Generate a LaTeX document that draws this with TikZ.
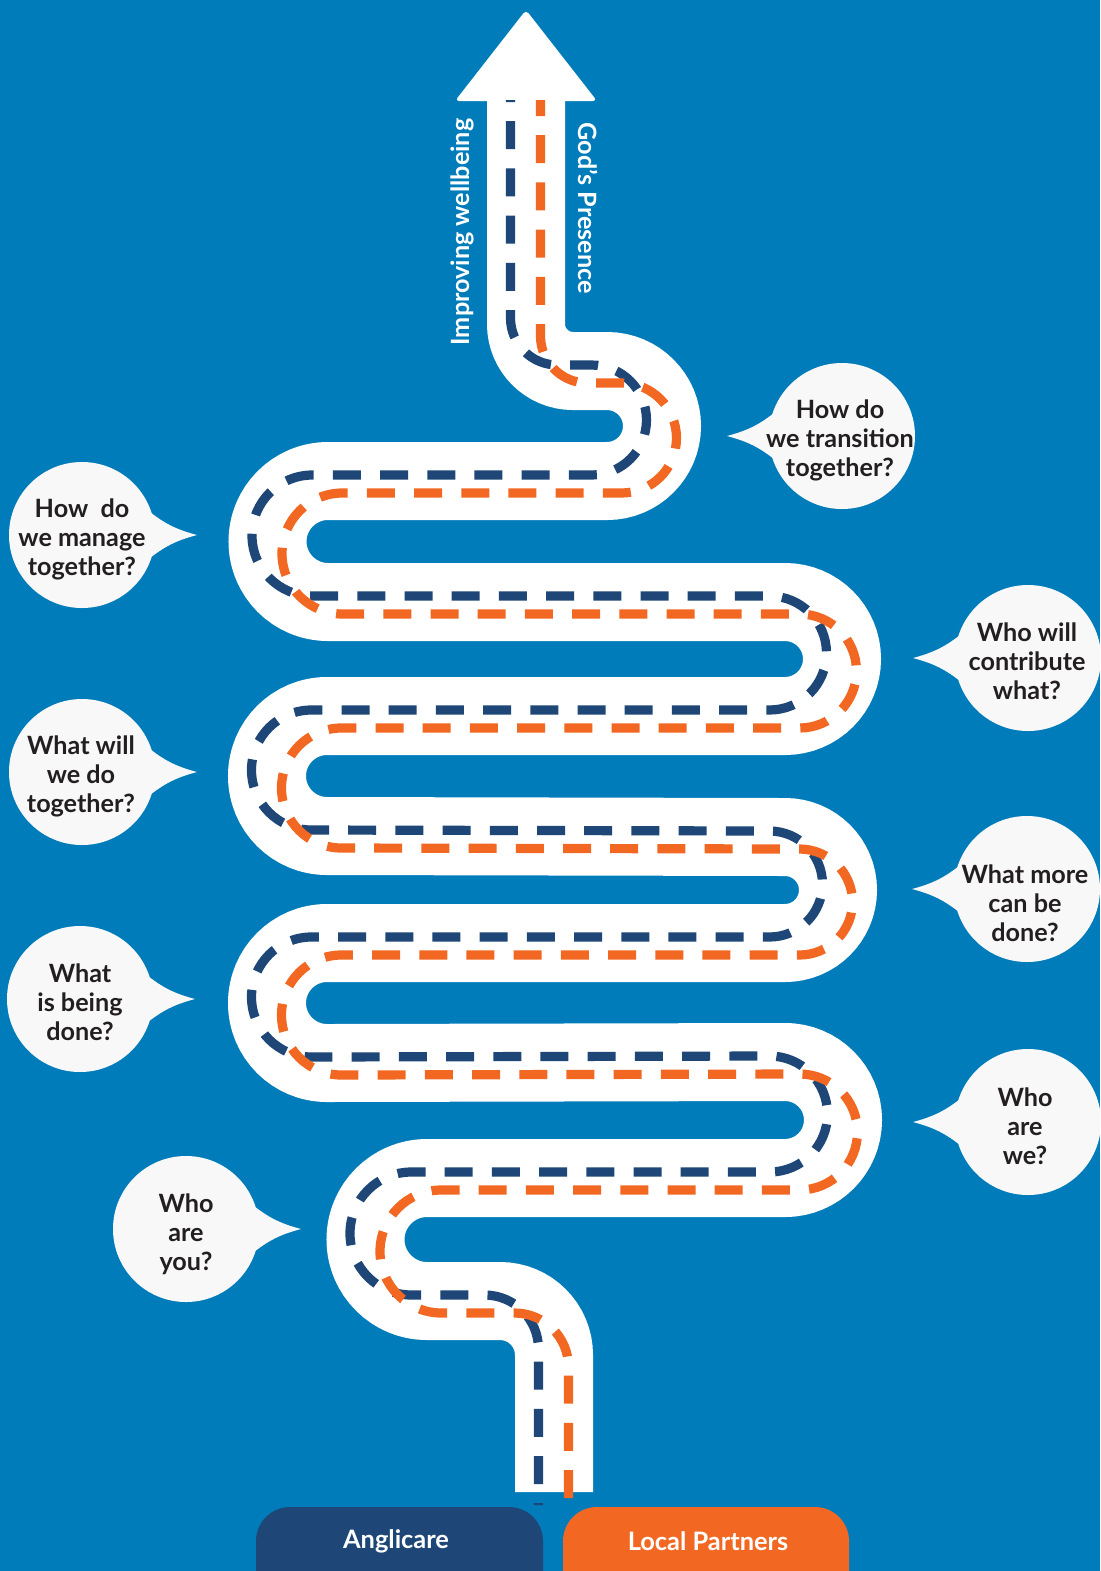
\documentclass[tikz,border=0pt]{standalone}
\usepackage{fontspec}
\setmainfont{Lato}
\usetikzlibrary{calc}
\definecolor{bgblue}{HTML}{007CBA}
\definecolor{navy}{HTML}{1E4777}
\definecolor{orng}{HTML}{F26823}
\definecolor{bubblewhite}{HTML}{F8F8F8}
\definecolor{inkdark}{HTML}{231F20}
\tikzset{
  road/.style={line width=39pt, white},
  lane/.style={line width=4.6pt, dash pattern=on 14pt off 9.6pt},
  bubble/.style={fill=bubblewhite},
  qtext/.style={font=\bfseries\fontsize{12.6}{14.5}\selectfont, text=inkdark, align=center, inner sep=0pt},
  tag/.style={font=\bfseries\fontsize{12.7}{14}\selectfont, text=white},
  side/.style={font=\bfseries\fontsize{12.6}{14}\selectfont, text=white},
  pics/bubbleleft/.style={code={
    \fill[bubble] (0,0) circle[radius=73];
    \fill[bubble] (159:70) to[bend left=12] (-115,0) to[bend left=12] (201:70) -- cycle;}},
  pics/bubbleright/.style={code={
    \fill[bubble] (0,0) circle[radius=73];
    \fill[bubble] (21:70) to[bend right=12] (115,0) to[bend right=12] (-21:70) -- cycle;}},
}
% centre line of the winding road, #1 = top end, #2 = bottom end
\newcommand\roadpath[2]{(526,#1) -- (526,-324)
  arc[start angle=180,end angle=270,radius=47] -- (607,-371)
  arc[start angle=90,end angle=-90,radius=55] -- (328,-481)
  arc[start angle=90,end angle=270,radius=60.5] -- (785,-602)
  arc[start angle=90,end angle=-90,radius=57] -- (327,-716)
  arc[start angle=90,end angle=270,radius=60] -- (785,-837)
  arc[start angle=90,end angle=-90,radius=53] -- (327,-943)
  arc[start angle=90,end angle=270,radius=60] -- (785,-1062)
  arc[start angle=90,end angle=-90,radius=58] -- (427,-1178)
  arc[start angle=90,end angle=270,radius=61.5] -- (500,-1301)
  arc[start angle=90,end angle=0,radius=54] -- (554,#2)}

\begin{document}
\begin{tikzpicture}[x=0.5pt,y=0.5pt]
  \useasboundingbox (0,0) rectangle (1100,-1571);
  \clip (0,0) rectangle (1100,-1571);
  \fill[bgblue] (0,0) rectangle (1100,-1571);

  % road and arrow head
  \draw[road] \roadpath{-100}{-1492};
  \fill[white, rounded corners=2pt] (455,-101) -- (526,-10) -- (597,-101) -- cycle;

  % two lanes
  \draw[lane,navy,dash phase=13pt,shift={(-15.5,6)}] \roadpath{-106}{-1511};
  \draw[lane,orng,dash phase=6pt,shift={(14.5,-12)}] \roadpath{-88}{-1498};

  % arrow labels
  \node[side,rotate=90]  (wellbeing) at (462,-232) {Improving wellbeing};
  \node[side,rotate=-90] (presence)  at (588,-208) {God’s Presence};

  % speech bubbles
  \pic at (842,-436) {bubbleleft};
  \pic at (82,-535) {bubbleright};
  \pic at (1028,-658) {bubbleleft};
  \pic at (82,-772) {bubbleright};
  \pic at (1027,-889) {bubbleleft};
  \pic at (80,-999) {bubbleright};
  \pic at (1028,-1122) {bubbleleft};
  \pic at (186,-1229) {bubbleright};

  \node[qtext] (q1) at (840,-440)  {How do\\we transition\\together?};
  \node[qtext] (q2) at (82,-539)   {How~ do\\we manage\\together?};
  \node[qtext] (q3) at (1027,-661) {Who will\\contribute\\what?};
  \node[qtext] (q4) at (81,-776)   {What will\\we do\\together?};
  \node[qtext] (q5) at (1025,-903) {What more\\can be\\done?};
  \node[qtext] (q6) at (80,-1002)  {What\\is being\\done?};
  \node[qtext] (q7) at (1025,-1126){Who\\are\\we?};
  \node[qtext] (q8) at (186,-1234) {Who\\are\\you?};

  % partner tabs
  \fill[navy, rounded corners=17pt] (256,-1507) rectangle (543,-1640);
  \fill[orng, rounded corners=17pt] (563,-1507) rectangle (849,-1640);
  \node[tag] (anglicare) at (396,-1541) {Anglicare};
  \node[tag] (partners)  at (708,-1541) {Local Partners};
\end{tikzpicture}
\end{document}
